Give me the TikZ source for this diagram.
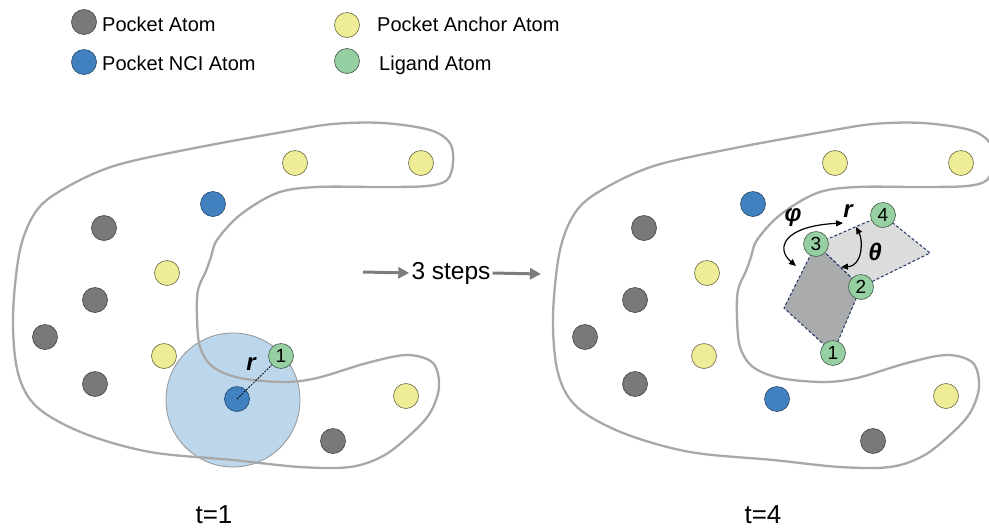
\documentclass[tikz,border=0pt]{standalone}
\usepackage{fontspec}
\setmainfont{Liberation Sans}
\usetikzlibrary{arrows.meta}
\definecolor{pocketgray}{RGB}{120,121,123}
\definecolor{ncib}{RGB}{66,129,192}
\definecolor{anchory}{RGB}{238,236,150}
\definecolor{ligg}{RGB}{150,207,162}
\definecolor{outlinegray}{RGB}{168,168,168}
\definecolor{sphere}{RGB}{188,215,236}
\definecolor{darkq}{RGB}{170,171,173}
\definecolor{lightq}{RGB}{220,220,220}
\definecolor{navyline}{RGB}{31,56,100}
\definecolor{arrowgray}{RGB}{125,125,125}
\begin{document}
\begin{tikzpicture}[x=1pt,y=-1pt,
  atom/.style={circle,line width=0.6pt,minimum size=25pt,inner sep=0pt,font=\fontsize{19}{19}\selectfont},
  gatom/.style={atom,fill=pocketgray,draw=pocketgray!55!black},
  batom/.style={atom,fill=ncib,draw=ncib!55!black},
  yatom/.style={atom,fill=anchory,draw=anchory!45!black},
  latom/.style={atom,fill=ligg,draw=ligg!45!black},
  legtext/.style={anchor=base west,inner sep=0pt,font=\fontsize{20}{20}\selectfont},
  pocket/.style={draw=outlinegray,line width=2.3pt},
  quadline/.style={draw=navyline,line width=1pt,dashed,dash pattern=on 3pt off 2pt},
  garrow/.style={draw=arrowgray,line width=3pt,-{Triangle[length=11pt,width=11pt]}},
  barrow/.style={draw=black,line width=1.2pt,{Triangle[length=7pt,width=6pt]}-{Triangle[length=7pt,width=6pt]}},
  symb/.style={inner sep=0pt,font=\fontsize{24}{24}\selectfont\bfseries\itshape},
  tlabel/.style={anchor=base,inner sep=0pt,font=\fontsize{26}{26}\selectfont}]
\useasboundingbox (0,0) rectangle (989,528);
% legend
\node[gatom] (lg1) at (84,22) {};
\node[legtext] (lt1) at (102,31.5) {Pocket Atom};
\node[batom] (lg2) at (84,62) {};
\node[legtext] (lt2) at (102,70.5) {Pocket NCI Atom};
\node[yatom] (lg3) at (347,25) {};
\node[legtext] (lt3) at (377,31.5) {Pocket Anchor Atom};
\node[latom] (lg4) at (347,61) {};
\node[legtext] (lt4) at (379,70.5) {Ligand Atom};
% left panel
\node[circle,fill=sphere,draw=gray!85,line width=0.8pt,minimum size=134pt,inner sep=0pt] (sph) at (233,400) {};
\foreach \s/\nm in {0/L,540/R}{
\begin{scope}[xshift=\s pt]
\draw[pocket] plot[smooth cycle,tension=0.55] coordinates {
(67,187) (117,165) (200,147) (283,132) (333,124) (383,123) (430,130) (450,143)
(453,163) (447,180) (427,186) (383,187) (317,187) (277,193) (240,215) (217,240)
(211,257) (206,271) (198,290) (197,317) (200,347) (213,367) (240,378) (283,382)
(317,378) (367,363) (407,355) (433,363) (439,387) (430,413) (410,435) (383,456)
(350,467) (300,467) (233,460) (150,452) (83,433) (37,407) (18,373) (13,317)
(20,250) (37,210)};
\node[yatom] (\nm y1) at (295,163) {};
\node[yatom] (\nm y2) at (421,163) {};
\node[gatom] (\nm g1) at (104,228) {};
\node[yatom] (\nm y3) at (167,273) {};
\node[gatom] (\nm g2) at (95,300) {};
\node[gatom] (\nm g3) at (45,337) {};
\node[yatom] (\nm y4) at (164,356) {};
\node[gatom] (\nm g4) at (95,384) {};
\node[yatom] (\nm y5) at (406,396) {};
\node[gatom] (\nm g5) at (333,441) {};
\end{scope}}
\node[batom] (Lb1) at (213,204) {};
\node[batom] (Lb2) at (237,399) {};
\node[latom] (l1) at (281,356) {1};
\draw[black,line width=0.8pt,dash pattern=on 2pt off 1.2pt] (Lb2.center) -- (l1);
\node[symb] (rl) at (251,364) {r};
% arrow between panels
\node[inner sep=2pt,font=\fontsize{24.5}{25}\selectfont] (steps) at (451,273) {3 steps};
\coordinate (sa) at (363,272);
\coordinate (se) at (541,274);
\draw[garrow] (sa) -- (steps.west);
\draw[garrow] (steps.east) -- (se);
% right panel atoms
\node[batom] (Rb1) at (753,204) {};
\node[batom] (Rb2) at (777,399) {};
\coordinate (r3c) at (816,244);
\coordinate (r4c) at (883,215);
\coordinate (r2c) at (861,287);
\coordinate (r1c) at (833,353);
\coordinate (dq) at (784,308);
\coordinate (lq) at (930,253);
\filldraw[quadline,fill=lightq] (r3c) -- (r4c) -- (lq) -- (r2c) -- cycle;
\filldraw[quadline,fill=darkq] (r3c) -- (dq) -- (r1c) -- (r2c) -- cycle;
\node[latom] (r1) at (r1c) {1};
\node[latom] (r2) at (r2c) {2};
\node[latom] (r3) at (r3c) {3};
\node[latom] (r4) at (r4c) {4};
\coordinate (phA) at (796,266);
\coordinate (phB) at (843,223);
\draw[barrow] (phA) .. controls (775,248) and (784,226) .. (phB);
\coordinate (thA) at (856,227);
\coordinate (thB) at (841,267);
\draw[barrow] (thA) .. controls (863,240) and (863,266) .. (thB);
\node[symb] (phi) at (793,218) {φ};
\node[symb] (rr) at (848,211) {r};
\node[symb] (th) at (875,252) {θ};
% time labels
\node[tlabel] (t1) at (214,523.5) {t=1};
\node[tlabel] (t4) at (763,523.5) {t=4};
\end{tikzpicture}
\end{document}
